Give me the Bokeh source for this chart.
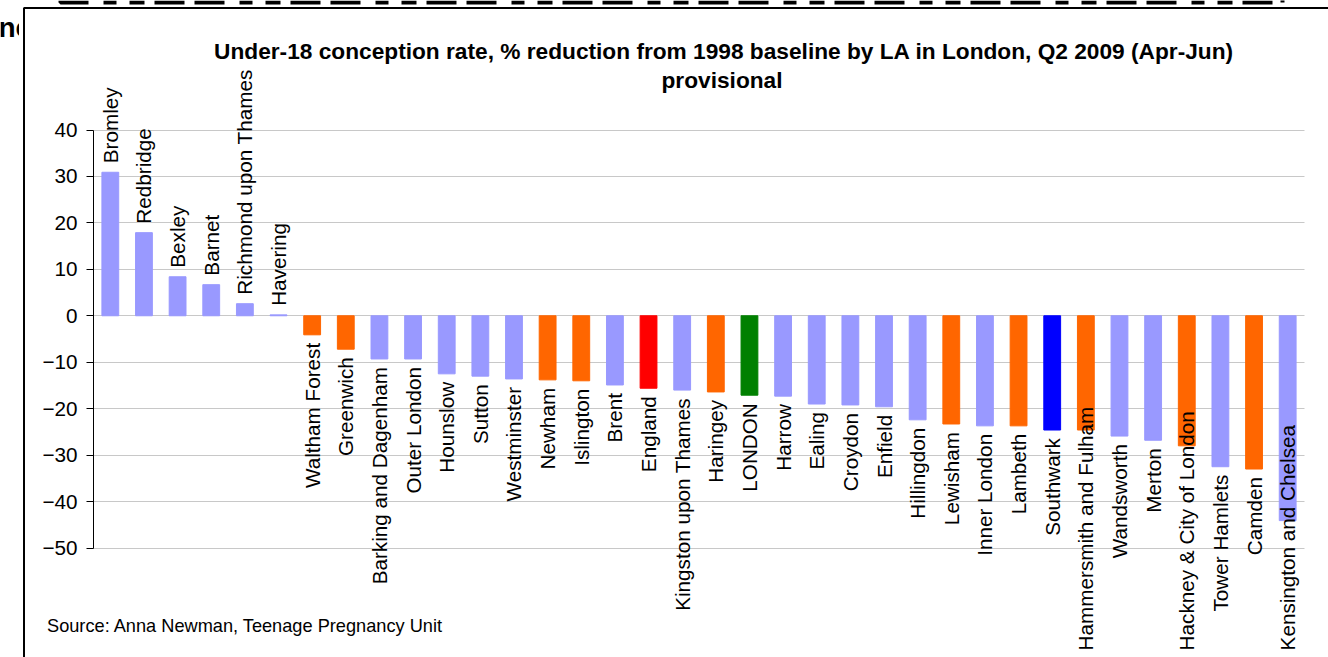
import math
from bokeh.plotting import figure
from bokeh.models import (ColumnDataSource, LabelSet, Label, Range1d, Grid,
                          FixedTicker, BoxAnnotation)
from bokeh.core.properties import value
from bokeh.embed import file_html
from bokeh.resources import INLINE

# ---------------- data ----------------
areas = ["Bromley", "Redbridge", "Bexley", "Barnet", "Richmond upon Thames", "Havering",
         "Waltham Forest", "Greenwich", "Barking and Dagenham", "Outer London", "Hounslow",
         "Sutton", "Westminster", "Newham", "Islington", "Brent", "England",
         "Kingston upon Thames", "Haringey", "LONDON", "Harrow", "Ealing", "Croydon",
         "Enfield", "Hillingdon", "Lewisham", "Inner London", "Lambeth", "Southwark",
         "Hammersmith and Fulham", "Wandsworth", "Merton", "Hackney & City of London",
         "Tower Hamlets", "Camden", "Kensington and Chelsea"]
values = [30.9, 17.9, 8.4, 6.7, 2.6, 0.2,
          -4.1, -7.2, -9.3, -9.3, -12.5,
          -13.0, -13.6, -13.8, -14.0, -14.9, -15.6,
          -16.0, -16.4, -17.1, -17.3, -19.0, -19.2,
          -19.6, -22.4, -23.3, -23.7, -23.7, -24.6,
          -24.6, -25.9, -26.8, -28.0,
          -32.5, -33.0, -44.1]
groups = ["other"] * 6 + ["target", "target", "other", "other", "other",
          "other", "other", "target", "target", "other", "england",
          "other", "target", "london", "other", "other", "other",
          "other", "other", "target", "other", "target", "southwark",
          "target", "other", "other", "target",
          "other", "target", "other"]
y_ticks = [-50, -40, -30, -20, -10, 0, 10, 20, 30, 40]

group_colors = {"other": "#9999FF", "target": "#FF6600", "england": "#FF0000",
                "london": "#008000", "southwark": "#0000FF"}

# ---------------- layout constants ----------------
W, H = 1328, 657
LEFT, RIGHT = 93, 24                  # plot-area margins (px)
PX_TOP, PX_BOTTOM = 129.5, 547.5      # canvas rows of the axis ends
LABEL_FLOOR_PX = 650                  # labels are kept above this row
Y0, Y1 = -50, 40
N = len(areas)
ppu = (PX_BOTTOM - PX_TOP) / (Y1 - Y0)
pxcat = (W - LEFT - RIGHT) / N
X_START = -0.5 - LEFT / pxcat
X_END = N - 0.5 + RIGHT / pxcat
Y_END = Y1 + PX_TOP / ppu
Y_START = Y0 - (H - PX_BOTTOM) / ppu
FS = 20.7
FONT = "Liberation Sans"
GAP_POS, GAP_NEG = 9, 8

ARIAL = {' ': 278, '&': 667, 'a': 556, 'b': 556, 'c': 500, 'd': 556, 'e': 556, 'f': 278,
         'g': 556, 'h': 556, 'i': 222, 'j': 222, 'k': 500, 'l': 222, 'm': 833, 'n': 556,
         'o': 556, 'p': 556, 'q': 556, 'r': 333, 's': 500, 't': 278, 'u': 556, 'v': 500,
         'w': 722, 'x': 500, 'y': 500, 'z': 500, 'A': 667, 'B': 667, 'C': 722, 'D': 722,
         'E': 667, 'F': 611, 'G': 778, 'H': 722, 'I': 278, 'J': 500, 'K': 667, 'L': 556,
         'M': 833, 'N': 722, 'O': 778, 'P': 667, 'Q': 778, 'R': 722, 'S': 667, 'T': 611,
         'U': 722, 'V': 667, 'W': 944, 'X': 667, 'Y': 667, 'Z': 611}


def text_px(s, size):
    return sum(ARIAL.get(c, 556) for c in s) / 1000.0 * size


idx = list(range(N))
pos = dict(x=[], area=[], value=[], off=[])
neg = dict(x=[], area=[], value=[], off=[])
zero_px = PX_TOP + Y1 * ppu
limit_px = LABEL_FLOOR_PX - zero_px
for i, a, v in zip(idx, areas, values):
    if v >= 0:
        pos["x"].append(i); pos["area"].append(a); pos["value"].append(v)
        pos["off"].append(GAP_POS)
    else:
        end_px = -v * ppu
        top_px = min(end_px + GAP_NEG, limit_px - text_px(a, FS))
        neg["x"].append(i); neg["area"].append(a); neg["value"].append(v)
        neg["off"].append(-(top_px - end_px))

src = ColumnDataSource(dict(x=idx, area=areas, value=values,
                            color=[group_colors[g] for g in groups]))

p = figure(width=W, height=H, x_range=Range1d(X_START, X_END),
           y_range=Range1d(Y_START, Y_END),
           output_backend="svg", toolbar_location=None, x_axis_type=None,
           min_border_left=0, min_border_right=0, min_border_top=0,
           min_border_bottom=0)
p.title.visible = False
p.outline_line_color = None
p.background_fill_color = "white"
p.border_fill_color = "white"

p.vbar(x="x", top="value", bottom=0, width=0.5, color="color", source=src)

p.ygrid.grid_line_color = "#C8C8C8"
p.ygrid.grid_line_width = 1
if "cross_bounds" in Grid.properties():
    p.ygrid.cross_bounds = (-0.5, N - 0.5)
ya = p.yaxis[0]
ya.fixed_location = -0.5
ya.ticker = FixedTicker(ticks=y_ticks)
ya.bounds = (Y0, Y1)
ya.axis_line_color = "#000000"
ya.major_tick_line_color = "#000000"
ya.major_tick_in = 0
ya.major_tick_out = 7
ya.minor_tick_line_color = None
ya.major_label_standoff = 9
ya.major_label_text_font = FONT
ya.major_label_text_font_size = f"{FS}px"
ya.major_label_text_color = "#000000"

lp = LabelSet(x="x", y="value", text="area", y_offset="off", angle=math.pi / 2,
              text_align="left", text_baseline="middle", text_font=value(FONT),
              text_font_size=value(f"{FS}px"), text_color="#000000",
              source=ColumnDataSource(pos))
ln = LabelSet(x="x", y="value", text="area", y_offset="off", angle=math.pi / 2,
              text_align="right", text_baseline="middle", text_font=value(FONT),
              text_font_size=value(f"{FS}px"), text_color="#000000",
              source=ColumnDataSource(neg))
p.add_layout(lp)
p.add_layout(ln)

# title
p.add_layout(Label(x=723.5, y=50, x_units="canvas", y_units="canvas",
                   text="Under-18 conception rate, % reduction from 1998 baseline by LA in London, Q2 2009 (Apr-Jun)",
                   text_align="center", text_baseline="middle", text_font=FONT,
                   text_font_style="bold", text_font_size="22.7px", text_color="#000000"))
p.add_layout(Label(x=721.5, y=79, x_units="canvas", y_units="canvas", text="provisional",
                   text_align="center", text_baseline="middle", text_font=FONT,
                   text_font_style="bold", text_font_size="22.7px", text_color="#000000"))
# source
p.add_layout(Label(x=46.5, y=625, x_units="canvas", y_units="canvas",
                   text="Source: Anna Newman, Teenage Pregnancy Unit",
                   text_align="left", text_baseline="middle", text_font=FONT,
                   text_font_size="18.2px", text_color="#000000"))

# --- slide context around the embedded chart (cut-off text and frame) ---
p.add_layout(Label(x=-2, y=26.5, x_units="canvas", y_units="canvas", text="ne",
                   text_align="left", text_baseline="middle", text_font=FONT,
                   text_font_style="bold", text_font_size="28px", text_color="#000000"))
p.add_layout(BoxAnnotation(left=18.5, right=70, top=8, bottom=70,
                           left_units="canvas", right_units="canvas",
                           top_units="canvas", bottom_units="canvas",
                           fill_color="white", fill_alpha=1, line_alpha=0))
p.add_layout(BoxAnnotation(left=60, right=1282, top=-30, bottom=2,
                           left_units="canvas", right_units="canvas",
                           top_units="canvas", bottom_units="canvas",
                           fill_alpha=0, line_color="#000000", line_alpha=1,
                           line_width=4, line_dash="30 10 30 10 15 13 13 15"))
p.add_layout(BoxAnnotation(left=23.5, right=5000, top=7.5, bottom=5000,
                           left_units="canvas", right_units="canvas",
                           top_units="canvas", bottom_units="canvas",
                           fill_alpha=0, line_color="#000000", line_alpha=1,
                           line_width=2))

open("out.html", "w").write(file_html(p, INLINE))
